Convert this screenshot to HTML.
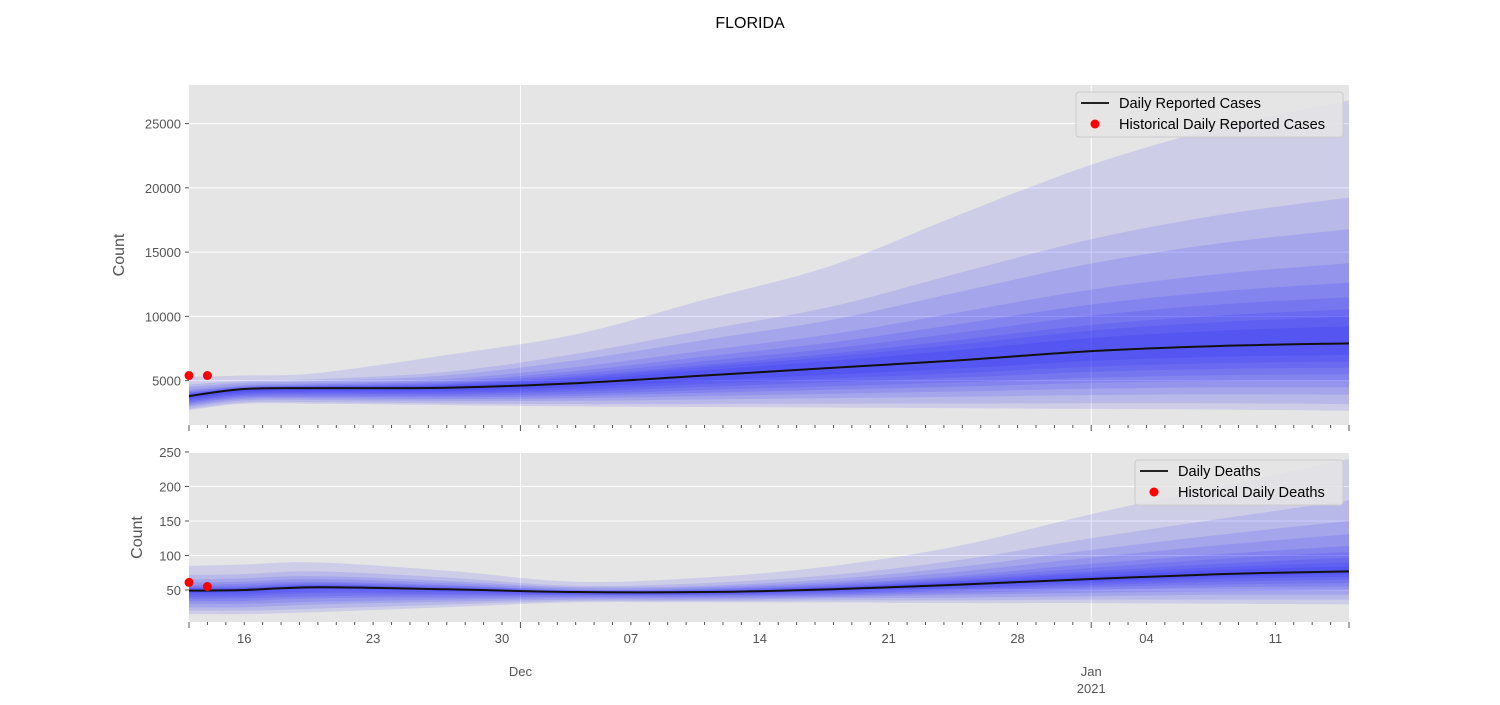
<!DOCTYPE html>
<html><head><meta charset="utf-8"><style>
body{margin:0;background:#fff;}
svg text{font-family:"Liberation Sans","DejaVu Sans",sans-serif;}
</style></head><body>
<svg id="chart" width="1500" height="700" xmlns="http://www.w3.org/2000/svg">
<text x="750" y="28" text-anchor="middle" font-size="16" fill="#000">FLORIDA</text>
</svg>
<script>
// ---- data ----
const days = [0,3,7,14,21,28,35,42,49,56,63];
const casesMedian = [3800,4350,4420,4450,4800,5400,6000,6600,7300,7700,7900];
const casesUpper = [
 [5300,5400,5600,7000,8600,11300,14000,18000,21800,24700,26800],
 [4700,4960,5120,5680,7080,8940,10800,13440,16000,17900,19240],
 [4505,4817,4964,5414,6586,8173,9760,11958,14115,15690,16783],
 [4295,4663,4796,5127,6054,7347,8640,10362,12085,13310,14137],
 [4175,4575,4700,4963,5750,6875,8000,9450,10925,11950,12625],
 [4085,4509,4628,4840,5522,6521,7520,8766,10055,10930,11491],
 [4010,4454,4568,4737,5332,6226,7120,8196,9330,10080,10546],
 [3965,4421,4532,4676,5218,6049,6880,7854,8895,9570,9979],
 [3905,4377,4484,4594,5066,5813,6560,7398,8315,8890,9223]
];
const casesLower = [
 [2700,3200,3200,3100,3000,2950,2900,2850,2800,2750,2650],
 [2810,3310,3320,3235,3180,3195,3210,3225,3250,3245,3175],
 [2964,3464,3488,3424,3432,3538,3644,3750,3880,3938,3910],
 [3085,3585,3620,3572,3630,3807,3985,4162,4375,4482,4487],
 [3195,3695,3740,3707,3810,4052,4295,4537,4825,4977,5012],
 [3294,3794,3848,3829,3972,4273,4574,4875,5230,5423,5485],
 [3404,3904,3968,3964,4152,4518,4884,5250,5680,5918,6010],
 [3503,4003,4076,4085,4314,4738,5163,5587,6085,6363,6482],
 [3613,4113,4196,4220,4494,4983,5473,5962,6535,6858,7007]
];
const casesHistDays = [0,1];
const casesHist = [5400,5400];
const deathsMedian = [49,50,54,51,47,47,51,58,66,73,77];
const deathsUpper = [
 [85,87,90,78,62,68,85,115,160,200,240],
 [72,73,77,68,56,60,72,94,125,153,180],
 [65,67,70,63,54,56,66,84,108,130,150],
 [61,62,66,60,52,54,62,77,97,115,131],
 [57,59,62,57,50,52,59,71,88,102,114],
 [55,56,60,56,50,51,57,68,82,95,105],
 [53,54,58,54,49,50,55,65,77,88,97],
 [52,53,57,53,48,49,54,63,74,83,90],
 [51,52,56,52,48,48,53,61,70,79,84]
];
const deathsLower = [
 [15,15,18,25,32,32,32,31,31,30,29],
 [20,20,23,29,34,34,35,35,36,36,36],
 [25,25,29,33,36,36,38,39,41,43,43],
 [30,30,33,36,38,38,40,43,46,48,50],
 [34,34,38,39,40,40,42,46,50,54,55],
 [37,38,41,42,42,42,44,49,54,58,60],
 [40,41,45,44,43,43,46,51,57,62,65],
 [43,44,48,47,44,44,48,53,60,66,69],
 [46,47,51,49,46,46,49,56,63,69,73]
];
const deathsHistDays = [0,1];
const deathsHist = [61,55];
const casesTicks = [5000,10000,15000,20000,25000];
const deathsTicks = [50,100,150,200,250];
const dayTickDays = [3,10,17,24,31,38,45,52,59];
const dayTickLabels = ["16","23","30","07","14","21","28","04","11"];
const monthTickDays = [18,49];
const monthTickLabels = [["Dec"],["Jan","2021"]];

// ---- layout ----
const NS="http://www.w3.org/2000/svg";
const svg=document.getElementById('chart');
const X0=189,X1=1349,DMAX=63;
const xs=d=>X0+(X1-X0)*d/DMAX;
function mk(tag,attrs,parent){const e=document.createElementNS(NS,tag);for(const k in attrs)e.setAttribute(k,attrs[k]);(parent||svg).appendChild(e);return e;}
function smooth(pts){let s='';for(let i=0;i<pts.length;i++){const p=pts[i];if(i===0){s+='M'+p[0]+','+p[1];continue;}
 const p0=pts[Math.max(0,i-2)],p1=pts[i-1],p2=p,p3=pts[Math.min(pts.length-1,i+1)];
 const c1=[p1[0]+(p2[0]-p0[0])/6,p1[1]+(p2[1]-p0[1])/6],c2=[p2[0]-(p3[0]-p1[0])/6,p2[1]-(p3[1]-p1[1])/6];
 s+='C'+c1[0]+','+c1[1]+' '+c2[0]+','+c2[1]+' '+p2[0]+','+p2[1];}return s;}

function panel(cfg){
 const {top,bottom,ymin,ymax,ticks,median,upper,lower,histD,hist,name,leg1,leg2,legX}=cfg;
 const ys=v=>bottom-(bottom-top)*(v-ymin)/(ymax-ymin);
 const bg=mk('rect',{x:X0,y:top,width:X1-X0,height:bottom-top,fill:'#e5e5e5'});
 
 ticks.forEach(t=>{const g=mk('line',{x1:X0,x2:X1,y1:ys(t),y2:ys(t),stroke:'#fff','stroke-width':1});
  
  const tk=mk('line',{x1:X0-4,x2:X0,y1:ys(t),y2:ys(t),stroke:'#555'});
  
  const tl=mk('text',{x:X0-8,y:ys(t)+5,'text-anchor':'end','font-size':13,fill:'#555'});tl.textContent=t;
  });
 monthTickDays.forEach(d=>{const g=mk('line',{x1:xs(d),x2:xs(d),y1:top,y2:bottom,stroke:'#fff'});
  });
 const cp=mk('clipPath',{id:name+'clip'});mk('rect',{x:X0,y:top,width:X1-X0,height:bottom-top},cp);
 for(let k=0;k<upper.length;k++){
  const up=days.map((d,i)=>[xs(d),ys(upper[k][i])]);
  const lo=days.map((d,i)=>[xs(d),ys(lower[k][i])]).reverse();
  const path=smooth(up)+'L'+lo[0][0]+','+lo[0][1]+smooth(lo).replace(/^M[^C]*/,'')+'Z';
  const b=mk('path',{d:path,fill:'rgba(0,0,255,0.1)','clip-path':'url(#'+name+'clip)'});
  }
 const ml=mk('path',{d:smooth(days.map((d,i)=>[xs(d),ys(median[i])])),fill:'none',stroke:'#111','stroke-width':2});
 
 hist.forEach((v,i)=>{const c=mk('circle',{cx:xs(histD[i]),cy:ys(v),r:4.5,fill:'#f00'});
  });
 for(let d=0;d<=DMAX;d++){const major=monthTickDays.includes(d)||d===0||d===DMAX;
  const t=mk('line',{x1:xs(d),x2:xs(d),y1:bottom,y2:bottom+(major?6:3),stroke:'#555'});
  }
 const yl=mk('text',{x:0,y:0,'font-size':16,fill:'#555','text-anchor':'middle',transform:'translate('+(name==='cases'?124:142)+','+((top+bottom)/2)+') rotate(-90)'});
 yl.textContent='Count';
 const lg=mk('g',{});
 mk('rect',{x:legX,y:top+7,width:1343-legX,height:45,rx:3,fill:'#e5e5e5','fill-opacity':0.85,stroke:'#ccc'},lg);
 mk('line',{x1:legX+5,x2:legX+33,y1:top+18,y2:top+18,stroke:'#222','stroke-width':2},lg);
 const t1=mk('text',{x:legX+43,y:top+23,'font-size':14.6,fill:'#000'},lg);t1.textContent=leg1;
 
 mk('circle',{cx:legX+19,cy:top+39,r:4.5,fill:'#f00'},lg);
 const t2=mk('text',{x:legX+43,y:top+44,'font-size':14.6,fill:'#000'},lg);t2.textContent=leg2;
 
}
panel({top:85,bottom:425,ymin:1550,ymax:28000,ticks:casesTicks,median:casesMedian,upper:casesUpper,lower:casesLower,histD:casesHistDays,hist:casesHist,name:'cases',leg1:'Daily Reported Cases',leg2:'Historical Daily Reported Cases',legX:1076});
panel({top:453,bottom:622,ymin:3.6,ymax:248.5,ticks:deathsTicks,median:deathsMedian,upper:deathsUpper,lower:deathsLower,histD:deathsHistDays,hist:deathsHist,name:'deaths',leg1:'Daily Deaths',leg2:'Historical Daily Deaths',legX:1135});
dayTickDays.forEach((d,i)=>{const t=mk('text',{x:xs(d),y:643,'text-anchor':'middle','font-size':13,fill:'#555'});t.textContent=dayTickLabels[i];
 });
monthTickDays.forEach((d,i)=>{monthTickLabels[i].forEach((s,j)=>{const t=mk('text',{x:xs(d),y:676+j*17,'text-anchor':'middle','font-size':13,fill:'#555'});t.textContent=s;
 });});
</script>
</body></html>
